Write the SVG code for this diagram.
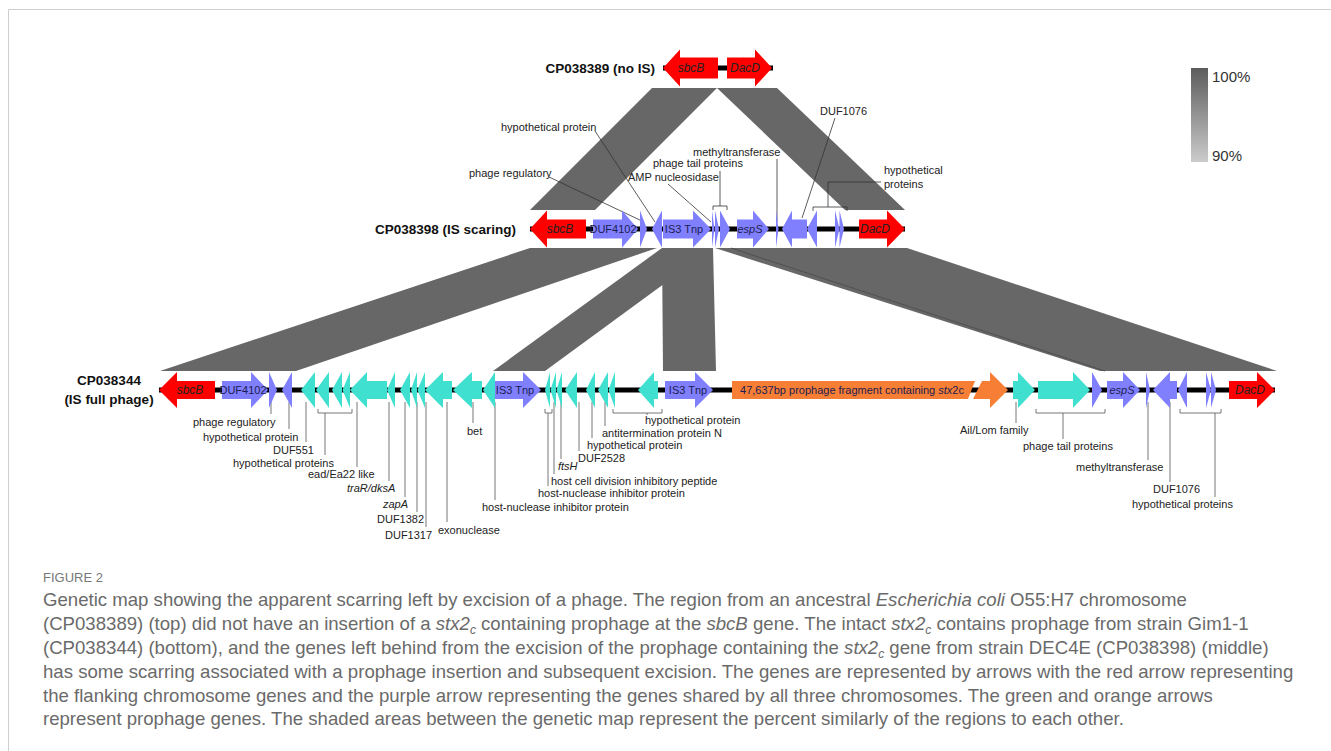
<svg xmlns="http://www.w3.org/2000/svg" width="1331" height="751" viewBox="0 0 1331 751">
<defs>
<linearGradient id="legendGrad" x1="0" y1="0" x2="0" y2="1">
<stop offset="0" stop-color="#5c5c5c"/>
<stop offset="1" stop-color="#cbcbcb"/>
</linearGradient>
<style>
.band{fill:#676767;}
.bb{fill:#000;}
.red{fill:#ff0000;}
.pur{fill:#8080ff;}
.teal{fill:#40e0d0;}
.org{fill:#f77f35;}
.gt{font-family:"Liberation Sans",Arial,sans-serif;font-size:11px;fill:#1c1c50;text-anchor:middle;}
.it{font-style:italic;}
.rt{font-family:"Liberation Sans",Arial,sans-serif;font-size:12px;font-style:italic;fill:#222;text-anchor:middle;}
.lab{font-family:"Liberation Sans",Arial,sans-serif;font-size:11px;fill:#222;}
.row{font-family:"Liberation Sans",Arial,sans-serif;font-size:13.5px;font-weight:bold;fill:#111;}
.ldm{fill:none;stroke:#333;stroke-width:0.8;}
.ldb{fill:none;stroke:#666;stroke-width:0.9;}
.cap{font-family:"Liberation Sans",Arial,sans-serif;font-size:18.6px;fill:#6a6a6a;}
.leg{font-family:"Liberation Sans",Arial,sans-serif;font-size:15px;fill:#333;}
</style>
</defs>
<rect width="1331" height="751" fill="#fff"/>
<path d="M8.5,751 V9.5 H1331" fill="none" stroke="#cfcfcf" stroke-width="1"/>

<g id="connectors">
<g id="bands">
<polygon class="band" points="652,88 717,88 595,210 530,210"/>
<polygon class="band" points="717,88 777,88 905,210 845,210"/>
<polygon class="band" points="530,248 657,248 296,371 160,371"/>
<polygon class="band" points="662,248 713,248 545,371 493,371"/>
<polygon class="band" points="662,248 713,248 716,371 663,371"/>
<polygon class="band" points="715,248 907,248 1277,371 1100,371"/>
<line x1="731" y1="248" x2="1105" y2="371" stroke="#4a4a4a" stroke-width="0.8"/>
</g>
<g id="leaders-middle">
<path class="ldm" d="M595,131 L655,222"/>
<path class="ldm" d="M549,177 L642,221"/>
<path class="ldm" d="M668,184 L711,222"/>
<path class="ldm" d="M777,159 L777,222"/>
<path class="ldm" d="M835,118 L802,218"/>
<path class="ldm" d="M713,210 V206 H727 V210 M720,206 V171"/>
<path class="ldm" d="M813,211 V207 H847 V211 M828,207 V182 H881"/>
</g>
<g id="leaders-bottom">
<path class="ldb" d="M271,402 V414"/>
<path class="ldb" d="M289,402 V429"/>
<path class="ldb" d="M306,402 V442"/>
<path class="ldb" d="M318,409 V413 H352 V409 M325,413 V455"/>
<path class="ldb" d="M357,402 V467"/>
<path class="ldb" d="M389,402 V481"/>
<path class="ldb" d="M405,402 V497"/>
<path class="ldb" d="M417,402 V512"/>
<path class="ldb" d="M426,402 V527"/>
<path class="ldb" d="M447,402 V522"/>
<path class="ldb" d="M473,402 V423"/>
<path class="ldb" d="M495,402 V500"/>
<path class="ldb" d="M545,409 V413 H552 V409 M548,413 V486"/>
<path class="ldb" d="M554,402 V474"/>
<path class="ldb" d="M561,402 V459"/>
<path class="ldb" d="M579,402 V451"/>
<path class="ldb" d="M592,402 V438"/>
<path class="ldb" d="M605,402 V426"/>
<path class="ldb" d="M613,409 V413 H662 V409 M647,413 V415"/>
<path class="ldb" d="M1016,402 V423"/>
<path class="ldb" d="M1036,409 V413 H1105 V409 M1063,413 V439"/>
<path class="ldb" d="M1148,402 V460"/>
<path class="ldb" d="M1170,402 V482"/>
<path class="ldb" d="M1180,409 V413 H1221 V409 M1215,413 V497"/>
</g>
</g>

<g id="row-top" transform="translate(0,68)">
<rect class="bb" x="663" y="-2.5" width="110" height="5"/>
<g id="top-sbcB"><path class="red" d="M718,-10.5 H680 V-18.5 L663,0 L680,18.5 V10.5 H718 Z"/><text class="rt" x="691" y="4">sbcB</text></g>
<g id="top-DacD"><path class="red" d="M727,-10.5 H755 V-18.5 L772,0 L755,18.5 V10.5 H727 Z"/><text class="rt" x="745" y="4">DacD</text></g>
</g>
<text id="label-top" class="row" x="655" y="73" text-anchor="end">CP038389 (no IS)</text>

<g id="row-middle" transform="translate(0,229)">
<rect class="bb" x="530" y="-2.5" width="375" height="5"/>
<g id="mid-sbcB"><path class="red" d="M586,-9.5 H547 V-18.5 L530,0 L547,18.5 V9.5 H586 Z"/><text class="rt" x="560" y="4">sbcB</text></g>
<g id="mid-DUF4102"><path class="pur" d="M593,-9.5 H622 V-18.5 L638,0 L622,18.5 V9.5 H593 Z"/><text class="gt" x="613" y="4">DUF4102</text></g>
<path id="mid-phagereg" class="pur" d="M640,-18.5 L647,0 L640,18.5 Z"/>
<path id="mid-hyp" class="pur" d="M662,-18.5 L652,0 L662,18.5 Z"/>
<g id="mid-IS3"><path class="pur" d="M663,-9.5 H693 V-18.5 L711,0 L693,18.5 V9.5 H663 Z"/><text class="gt" x="684" y="4">IS3 Tnp</text></g>
<path id="mid-amp" class="pur" d="M712,-18.5 L714.5,0 L712,18.5 Z"/>
<path id="mid-tail1" class="pur" d="M715,-18.5 L719,0 L715,18.5 Z"/>
<path id="mid-tail2" class="pur" d="M720,-18.5 L730,0 L720,18.5 Z"/>
<g id="mid-espS"><path class="pur" d="M737,-9.5 H753 V-18.5 L769,0 L753,18.5 V9.5 H737 Z"/><text class="gt it" x="750" y="4">espS</text></g>
<path id="mid-methyl" class="pur" d="M776,-18.5 L778.5,0 L776,18.5 Z"/>
<path id="mid-DUF1076" class="pur" d="M807,-9.5 H792 V-18.5 L782,0 L792,18.5 V9.5 H807 Z"/>
<path id="mid-hyp2" class="pur" d="M817,-18.5 L807,0 L817,18.5 Z"/>
<path id="mid-hyp3" class="pur" d="M835,-18.5 L839.5,0 L835,18.5 Z"/>
<path id="mid-hyp4" class="pur" d="M839.5,-18.5 L844,0 L839.5,18.5 Z"/>
<g id="mid-DacD"><path class="red" d="M859,-9.5 H887 V-18.5 L905,0 L887,18.5 V9.5 H859 Z"/><text class="rt" x="875" y="4">DacD</text></g>
</g>
<text id="label-middle" class="row" x="516" y="234" text-anchor="end">CP038398 (IS scaring)</text>

<g id="labels-middle" class="lab">
<text x="501" y="131">hypothetical protein</text>
<text x="469" y="177">phage regulatory</text>
<text x="653" y="167">phage tail proteins</text>
<text x="628" y="181">AMP nucleosidase</text>
<text x="693" y="156">methyltransferase</text>
<text x="820" y="115">DUF1076</text>
<text x="884" y="174">hypothetical</text>
<text x="884" y="188">proteins</text>
</g>

<g id="row-bottom" transform="translate(0,390)">
<rect class="bb" x="159" y="-2.5" width="1116" height="5"/>
<g id="bot-sbcB"><path class="red" d="M215,-9 H177 V-18 L159,0 L177,18 V9 H215 Z"/><text class="rt" x="190" y="4">sbcB</text></g>
<g id="bot-DUF4102"><path class="pur" d="M222,-9 H251 V-18 L268,0 L251,18 V9 H222 Z"/><text class="gt" x="243" y="4">DUF4102</text></g>
<path id="bot-phagereg" class="pur" d="M269,-18 L277,0 L269,18 Z"/>
<path id="bot-hyp" class="pur" d="M292,-18 L282,0 L292,18 Z"/>
<path id="bot-DUF551" class="teal" d="M315,-18 L301,0 L315,18 Z"/>
<path class="teal" d="M329,-18 L316,0 L329,18 Z"/>
<path class="teal" d="M342,-18 L332,0 L342,18 Z"/>
<path class="teal" d="M350,-18 L342.5,0 L350,18 Z"/>
<path id="bot-ead" class="teal" d="M387,-9 H367 V-18 L350,0 L367,18 V9 H387 Z"/>
<path id="bot-traR" class="teal" d="M395,-18 L387,0 L395,18 Z"/>
<path id="bot-zapA" class="teal" d="M410,-18 L400,0 L410,18 Z"/>
<path id="bot-DUF1382" class="teal" d="M417,-18 L411,0 L417,18 Z"/>
<path id="bot-DUF1317" class="teal" d="M425,-18 L417.5,0 L425,18 Z"/>
<path id="bot-exo" class="teal" d="M452,-9 H443 V-18 L425,0 L443,18 V9 H452 Z"/>
<path id="bot-bet" class="teal" d="M482,-9 H472 V-18 L453,0 L472,18 V9 H482 Z"/>
<path id="bot-hni1" class="teal" d="M495,-18 L483,0 L495,18 Z"/>
<g id="bot-IS3a"><path class="pur" d="M495,-9 H523 V-18 L541,0 L523,18 V9 H495 Z"/><text class="gt" x="515" y="4">IS3 Tnp</text></g>
<path class="teal" d="M550,-18 L545,0 L550,18 Z"/>
<path class="teal" d="M556,-18 L550.5,0 L556,18 Z"/>
<path class="teal" d="M562,-18 L556.5,0 L562,18 Z"/>
<path id="bot-DUF2528" class="teal" d="M577,-18 L565,0 L577,18 Z"/>
<path class="teal" d="M595,-18 L586,0 L595,18 Z"/>
<path class="teal" d="M608,-18 L598,0 L608,18 Z"/>
<path class="teal" d="M615,-18 L608.5,0 L615,18 Z"/>
<path class="teal" d="M658,-9 H654 V-18 L638,0 L654,18 V9 H658 Z"/>
<g id="bot-IS3b"><path class="pur" d="M665,-9 H695 V-18 L713,0 L695,18 V9 H665 Z"/><text class="gt" x="688" y="4">IS3 Tnp</text></g>
<g id="bot-prophage"><path class="org" d="M732,-9 H975 L968,9 H732 Z"/><path class="org" d="M982,-9 H990 V-18 L1008,0 L990,18 V9 H973 Z"/><text class="gt" x="852" y="4" font-size="10.8">47,637bp prophage fragment containing <tspan class="it">stx</tspan>2c</text></g>
<path id="bot-ail" class="teal" d="M1013,-9 H1018 V-18 L1035,0 L1018,18 V9 H1013 Z"/>
<path id="bot-tail" class="teal" d="M1038,-9 H1073 V-18 L1090,0 L1073,18 V9 H1038 Z"/>
<path class="pur" d="M1092,-18 L1102,0 L1092,18 Z"/>
<g id="bot-espS"><path class="pur" d="M1107,-9 H1123 V-18 L1140,0 L1123,18 V9 H1107 Z"/><text class="gt it" x="1122" y="4">espS</text></g>
<path id="bot-methyl" class="pur" d="M1146,-18 L1150,0 L1146,18 Z"/>
<path id="bot-DUF1076" class="pur" d="M1177,-9 H1170 V-18 L1153,0 L1170,18 V9 H1177 Z"/>
<path class="pur" d="M1187,-18 L1178,0 L1187,18 Z"/>
<path class="pur" d="M1206,-18 L1211,0 L1206,18 Z"/>
<path class="pur" d="M1211,-18 L1216,0 L1211,18 Z"/>
<g id="bot-DacD"><path class="red" d="M1229,-9 H1257 V-18 L1275,0 L1257,18 V9 H1229 Z"/><text class="rt" x="1250" y="4">DacD</text></g>
</g>
<g id="label-bottom" class="row" text-anchor="middle">
<text x="109" y="385">CP038344</text>
<text x="109" y="404">(IS full phage)</text>
</g>

<g id="labels-bottom" class="lab">
<text x="193" y="426">phage regulatory</text>
<text x="203" y="441">hypothetical protein</text>
<text x="273" y="454">DUF551</text>
<text x="233" y="467">hypothetical proteins</text>
<text x="308" y="478">ead/Ea22 like</text>
<text x="347" y="492" class="it">traR/dksA</text>
<text x="383" y="508" class="it">zapA</text>
<text x="377" y="523">DUF1382</text>
<text x="385" y="539">DUF1317</text>
<text x="438" y="534">exonuclease</text>
<text x="467" y="435">bet</text>
<text x="482" y="511">host-nuclease inhibitor protein</text>
<text x="538" y="497">host-nuclease inhibitor protein</text>
<text x="551" y="485">host cell division inhibitory peptide</text>
<text x="558" y="470" class="it">ftsH</text>
<text x="578" y="462">DUF2528</text>
<text x="587" y="449">hypothetical protein</text>
<text x="602" y="437">antitermination protein N</text>
<text x="645" y="424">hypothetical protein</text>
<text x="960" y="434">Ail/Lom family</text>
<text x="1023" y="450">phage tail proteins</text>
<text x="1076" y="471">methyltransferase</text>
<text x="1153" y="493">DUF1076</text>
<text x="1132" y="508">hypothetical proteins</text>
</g>

<g id="legend">
<rect x="1191" y="68" width="17" height="94" fill="url(#legendGrad)"/>
<text class="leg" x="1212" y="82">100%</text>
<text class="leg" x="1212" y="161">90%</text>
</g>

<g id="caption">
<text x="43" y="582" font-family="'Liberation Sans',Arial,sans-serif" font-size="13" fill="#777">FIGURE 2</text>
<text class="cap" x="43" y="606">Genetic map showing the apparent scarring left by excision of a phage. The region from an ancestral <tspan font-style="italic">Escherichia coli</tspan> O55:H7 chromosome</text>
<text class="cap" x="43" y="630">(CP038389) (top) did not have an insertion of a <tspan font-style="italic">stx2</tspan><tspan font-style="italic" font-size="12" dy="4">c</tspan><tspan dy="-4"> containing prophage at the </tspan><tspan font-style="italic">sbcB</tspan> gene. The intact <tspan font-style="italic">stx2</tspan><tspan font-style="italic" font-size="12" dy="4">c</tspan><tspan dy="-4"> contains prophage from strain Gim1-1</tspan></text>
<text class="cap" x="43" y="654">(CP038344) (bottom), and the genes left behind from the excision of the prophage containing the <tspan font-style="italic">stx2</tspan><tspan font-style="italic" font-size="12" dy="4">c</tspan><tspan dy="-4"> gene from strain DEC4E (CP038398) (middle)</tspan></text>
<text class="cap" x="43" y="678">has some scarring associated with a prophage insertion and subsequent excision. The genes are represented by arrows with the red arrow representing</text>
<text class="cap" x="43" y="702">the flanking chromosome genes and the purple arrow representing the genes shared by all three chromosomes. The green and orange arrows</text>
<text class="cap" x="43" y="725">represent prophage genes. The shaded areas between the genetic map represent the percent similarly of the regions to each other.</text>
</g>
</svg>
